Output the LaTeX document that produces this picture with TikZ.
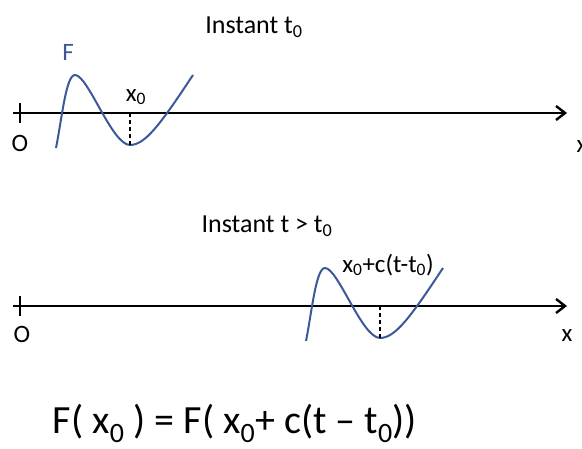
\documentclass[tikz,border=0pt]{standalone}
\usepackage{fontspec}
\setmainfont{Carlito}
\usetikzlibrary{arrows.meta}
\definecolor{curveblue}{RGB}{59,89,152}
\newcommand{\lbl}{\fontsize{25}{29}\selectfont}
\newcommand{\sub}[1]{\textsubscript{#1}}

\begin{document}
\begin{tikzpicture}[x=1pt,y=1pt,
	axis/.style = {line width=2.6pt, -{Straight Barb[length=9pt,width=14pt,line width=2.4pt]}},
	tick/.style = {line width=2.4pt},
	wave/.style = {curveblue, line width=2pt},
	foot/.style = {dashed, line width=1.8pt, dash pattern=on 4pt off 3pt}]
\useasboundingbox (0,0) rectangle (582,448);
% instant t0
\node (title1) at (254,421) {\fontsize{26}{30}\selectfont Instant t\sub{0}};
\coordinate (ax1) at (13,335);
\coordinate (ax1end) at (567,335);
\draw[axis] (ax1) -- (ax1end);
\draw[tick] (20,325) -- (20,345);
\node (O1) at (20,305) {\lbl O};
\node (X1) at (582,301) {\lbl x};
\draw[wave] (56,300) .. controls (62,330) and (66,373) .. (75,373)
	.. controls (88,373) and (112,303) .. (130,303)
	.. controls (145,303) and (160,323) .. (193,373);
\coordinate (min1) at (130,303);
\coordinate (foot1) at (130,335);
\draw[foot] (foot1) -- (min1);
\node[curveblue] (F) at (68,396) {\lbl F};
\node (x0) at (136,351) {\lbl x\sub{0}};
% instant t > t0
\node (title2) at (267,222) {\fontsize{26}{30}\selectfont Instant t > t\sub{0}};
\coordinate (ax2) at (13,142);
\coordinate (ax2end) at (567,142);
\draw[axis] (ax2) -- (ax2end);
\draw[tick] (20,132) -- (20,152);
\node (O2) at (22,114) {\lbl O};
\node (X2) at (567,112) {\lbl x};
\draw[wave] (306,107) .. controls (312,137) and (316,180) .. (325,180)
	.. controls (338,180) and (362,110) .. (380,110)
	.. controls (395,110) and (410,130) .. (443,180);
\coordinate (min2) at (380,110);
\coordinate (foot2) at (380,142);
\draw[foot] (foot2) -- (min2);
\node (shift) at (388,183) {\lbl x\sub{0}+c(t-t\sub{0})};
% relation
\node[anchor=base, inner sep=0.5pt] (eq) at (235,15) {\fontsize{40}{45}\selectfont F( x\sub{0} ) = F( x\sub{0}+ c(t – t\sub{0}))};
\end{tikzpicture}
\end{document}
